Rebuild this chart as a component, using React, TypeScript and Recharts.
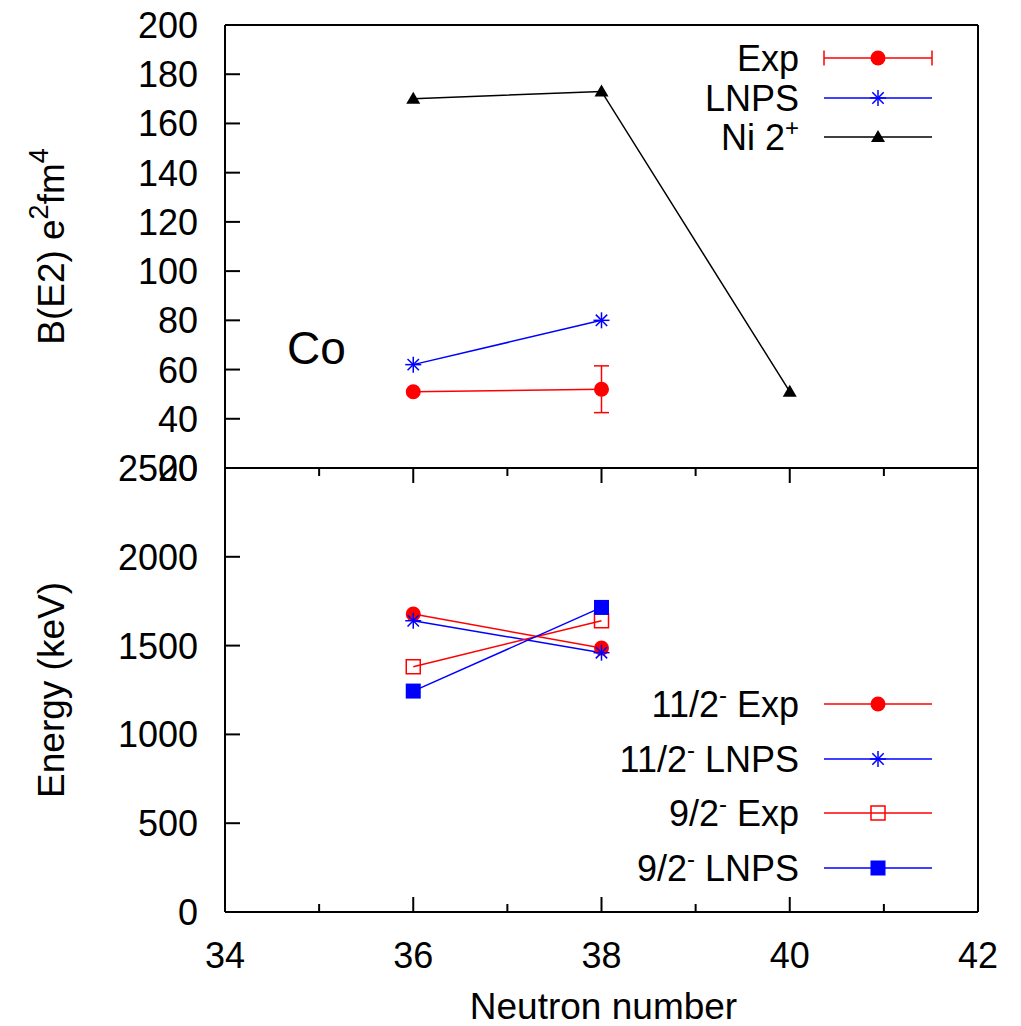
import React from 'react';
import { ComposedChart, Line, XAxis, YAxis, ErrorBar, Legend, ReferenceLine } from 'recharts';

const FONT = '"Liberation Sans", Arial, Helvetica, sans-serif';
const RED = '#ff0000';
const BLUE = '#0000ff';
const BLACK = '#000000';

// neutron numbers
const coN = [36, 38];
const niN = [36, 38, 40];

// B(E2) in e^2 fm^4
const be2Exp = [51, 52];
const be2ExpErr = [0, 9.5];
const be2Lnps = [62, 80];
const be2Ni = [170, 173, 51];

// level energies in keV
const e11Exp = [1678, 1486];
const e11Lnps = [1640, 1460];
const e9Exp = [1381, 1640];
const e9Lnps = [1244, 1715];

// ticks
const xTicks = [34, 35, 36, 37, 38, 39, 40, 41, 42];
const xLabels = [34, 36, 38, 40, 42];
const be2Ticks = [20, 40, 60, 80, 100, 120, 140, 160, 180, 200];
const energyTicks = [0, 500, 1000, 1500, 2000, 2500];

const toRows = (xs: number[], ys: number[], errs?: number[]) =>
  xs.map((n, i) => ({ n, v: ys[i], err: errs ? errs[i] : 0 }));

type Kind = 'circle' | 'star' | 'triangle' | 'openSquare' | 'square';

const Marker = ({ kind, cx, cy, color }: { kind: Kind; cx: number; cy: number; color: string }) => {
  if (cx == null || cy == null) return null;
  switch (kind) {
    case 'circle':
      return <circle cx={cx} cy={cy} r={7.5} fill={color} />;
    case 'star': {
      const r = 8;
      const d = 5.7;
      return (
        <g stroke={color} strokeWidth={1.5}>
          <line x1={cx - r} y1={cy} x2={cx + r} y2={cy} />
          <line x1={cx} y1={cy - r} x2={cx} y2={cy + r} />
          <line x1={cx - d} y1={cy - d} x2={cx + d} y2={cy + d} />
          <line x1={cx - d} y1={cy + d} x2={cx + d} y2={cy - d} />
        </g>
      );
    }
    case 'triangle':
      return <polygon points={`${cx},${cy - 7} ${cx + 7},${cy + 5} ${cx - 7},${cy + 5}`} fill={color} />;
    case 'openSquare':
      return <rect x={cx - 7} y={cy - 7} width={14} height={14} fill="none" stroke={color} strokeWidth={1.5} />;
    default:
      return <rect x={cx - 7.5} y={cy - 7.5} width={15} height={15} fill={color} />;
  }
};

const dotOf = (kind: Kind, color: string, name: string) => (p: any) => (
  <Marker key={`${name}-${p.index}`} kind={kind} cx={p.cx} cy={p.cy} color={color} />
);

// text with superscripts: [text, isSup]
type Seg = [string, boolean?];
const segSpans = (segs: Seg[], supSize: number, lift: number) => {
  let up = false;
  return segs.map(([t, sup], i) => {
    let dy = 0;
    if (sup && !up) dy = -lift;
    if (!sup && up) dy = lift;
    up = !!sup;
    return (
      <tspan key={i} dy={dy} fontSize={sup ? supSize : undefined}>
        {t}
      </tspan>
    );
  });
};

// tick renderers (ticks point inward, gnuplot style)
const LeftTick = ({ x, y, payload }: any) => (
  <g>
    <line x1={x} y1={y} x2={x + 15} y2={y} stroke={BLACK} strokeWidth={2} />
    <text x={x - 27} y={y + 13} textAnchor="end" fontSize={36} fontFamily={FONT} fill={BLACK}>
      {payload.value}
    </text>
  </g>
);

const RightTick = ({ x, y }: any) => <line x1={x} y1={y} x2={x - 15} y2={y} stroke={BLACK} strokeWidth={2} />;

const BottomTick = ({ x, y, payload }: any) => {
  const major = xLabels.includes(payload.value);
  return (
    <g>
      <line x1={x} y1={y} x2={x} y2={y - (major ? 15 : 8)} stroke={BLACK} strokeWidth={2} />
      {major && (
        <text x={x} y={y + 56} textAnchor="middle" fontSize={36} fontFamily={FONT} fill={BLACK}>
          {payload.value}
        </text>
      )}
    </g>
  );
};

const YTitle = ({ viewBox, segs }: any) => {
  const cy = viewBox.y + viewBox.height / 2;
  const bx = 64;
  return (
    <text
      x={bx}
      y={cy}
      transform={`rotate(-90 ${bx} ${cy})`}
      textAnchor="middle"
      fontSize={37}
      fontFamily={FONT}
      fill={BLACK}
    >
      {segSpans(segs, 27, 16)}
    </text>
  );
};

const XTitle = ({ viewBox }: any) => (
  <text
    x={viewBox.x + viewBox.width / 2 + 2}
    y={1019}
    textAnchor="middle"
    fontSize={37}
    fontFamily={FONT}
    fill={BLACK}
  >
    Neutron number
  </text>
);

type Row = { segs: Seg[]; color: string; kind: Kind; cy: number; err?: boolean };

const LegendSvg = ({ rows, height }: { rows: Row[]; height: number }) => (
  <svg width={1021} height={height} style={{ display: 'block' }}>
    {rows.map((r, i) => (
      <g key={i}>
        <text x={799} y={r.cy + 13} textAnchor="end" fontSize={36} fontFamily={FONT} fill={BLACK}>
          {segSpans(r.segs, 24, 14)}
        </text>
        <line x1={824} y1={r.cy} x2={932} y2={r.cy} stroke={r.color} strokeWidth={1.5} />
        {r.err && (
          <g stroke={r.color} strokeWidth={1.5}>
            <line x1={824} y1={r.cy - 7.5} x2={824} y2={r.cy + 7.5} />
            <line x1={932} y1={r.cy - 7.5} x2={932} y2={r.cy + 7.5} />
          </g>
        )}
        <Marker kind={r.kind} cx={878} cy={r.cy} color={r.color} />
      </g>
    ))}
  </svg>
);

const topLegend: Row[] = [
  { segs: [['Exp']], color: RED, kind: 'circle', cy: 58, err: true },
  { segs: [['LNPS']], color: BLUE, kind: 'star', cy: 98 },
  { segs: [['Ni 2'], ['+', true]], color: BLACK, kind: 'triangle', cy: 137 },
];

const bottomLegend: Row[] = [
  { segs: [['11/2'], ['-', true], [' Exp']], color: RED, kind: 'circle', cy: 704 },
  { segs: [['11/2'], ['-', true], [' LNPS']], color: BLUE, kind: 'star', cy: 759 },
  { segs: [['9/2'], ['-', true], [' Exp']], color: RED, kind: 'openSquare', cy: 813 },
  { segs: [['9/2'], ['-', true], [' LNPS']], color: BLUE, kind: 'square', cy: 868 },
];

const frame = { stroke: BLACK, strokeWidth: 2 };

// keV per pixel in the lower panel (2500 keV over 444 px)
const KEV_PX = 2500 / 444;

export default function App() {
  return (
    <div style={{ position: 'absolute', left: 0, top: 0, width: 1021, height: 1026, background: '#fff' }}>
      {/* upper panel: B(E2) */}
      <div style={{ position: 'absolute', left: 0, top: 0 }}>
        <ComposedChart width={1021} height={500} margin={{ top: 15, right: 33, bottom: 30, left: 145 }}>
          <XAxis xAxisId="b" type="number" dataKey="n" domain={[34, 42]} height={2} tick={false} tickLine={false} axisLine={frame} />
          <XAxis xAxisId="t" orientation="top" type="number" dataKey="n" domain={[34, 42]} height={10} tick={false} tickLine={false} axisLine={frame} />
          <YAxis
            yAxisId="l"
            type="number"
            domain={[20, 200]}
            ticks={be2Ticks}
            interval={0}
            width={80}
            tickLine={false}
            tickSize={0}
            tickMargin={0}
            tick={<LeftTick />}
            axisLine={frame}
            label={<YTitle segs={[['B(E2) e'], ['2', true], ['fm'], ['4', true]]} />}
          />
          <YAxis yAxisId="r" orientation="right" type="number" domain={[20, 200]} ticks={be2Ticks} interval={0} width={10} tickLine={false} tickSize={0} tickMargin={0} tick={<RightTick />} axisLine={frame} />
          <Line xAxisId="b" yAxisId="l" data={toRows(coN, be2Exp, be2ExpErr)} dataKey="v" name="Exp" stroke={RED} strokeWidth={1.5} dot={dotOf('circle', RED, 'exp')} activeDot={false} isAnimationActive={false}>
            <ErrorBar dataKey="err" direction="y" width={7.5} stroke={RED} strokeWidth={1.5} isAnimationActive={false} />
          </Line>
          <Line xAxisId="b" yAxisId="l" data={toRows(coN, be2Lnps)} dataKey="v" name="LNPS" stroke={BLUE} strokeWidth={1.5} dot={dotOf('star', BLUE, 'lnps')} activeDot={false} isAnimationActive={false} />
          <Line xAxisId="b" yAxisId="l" data={toRows(niN, be2Ni)} dataKey="v" name="Ni" stroke={BLACK} strokeWidth={1.5} dot={dotOf('triangle', BLACK, 'ni')} activeDot={false} isAnimationActive={false} />
          <Legend
            layout="vertical"
            align="center"
            verticalAlign="middle"
            wrapperStyle={{ left: 0, top: 0, width: 1021, height: 170 }}
            content={() => <LegendSvg rows={topLegend} height={170} />}
          />
        </ComposedChart>
        <div
          style={{
            position: 'absolute',
            left: 287,
            top: 322,
            fontFamily: FONT,
            fontSize: 46,
            lineHeight: '52px',
            color: BLACK,
          }}
        >
          Co
        </div>
      </div>

      {/* lower panel: energies */}
      <div style={{ position: 'absolute', left: 0, top: 0 }}>
        <ComposedChart width={1021} height={1026} margin={{ top: 458, right: 33, bottom: 54, left: 145 }}>
          <XAxis
            xAxisId="b"
            type="number"
            dataKey="n"
            domain={[34, 42]}
            ticks={xTicks}
            interval={0}
            height={60}
            tickLine={false}
            tickSize={0}
            tickMargin={0}
            tick={<BottomTick />}
            axisLine={frame}
            label={<XTitle />}
          />
          <XAxis xAxisId="t" orientation="top" type="number" dataKey="n" domain={[34, 42]} height={10} tick={false} tickLine={false} axisLine={frame} />
          <YAxis
            yAxisId="l"
            type="number"
            domain={[0, 2500]}
            ticks={energyTicks}
            interval={0}
            width={80}
            tickLine={false}
            tickSize={0}
            tickMargin={0}
            tick={<LeftTick />}
            axisLine={frame}
            label={<YTitle segs={[['Energy (keV)']]} />}
          />
          <YAxis yAxisId="r" orientation="right" type="number" domain={[0, 2500]} ticks={energyTicks} interval={0} width={10} tickLine={false} tickSize={0} tickMargin={0} tick={<RightTick />} axisLine={frame} />
          {/* mirrored x ticks hanging from the top edge of the lower panel */}
          {xTicks.map((t) => (
            <ReferenceLine
              key={`hang-${t}`}
              xAxisId="b"
              yAxisId="l"
              segment={[
                { x: t, y: 2500 },
                { x: t, y: 2500 - (xLabels.includes(t) ? 15 : 8) * KEV_PX },
              ]}
              stroke={BLACK}
              strokeWidth={2}
              ifOverflow="visible"
            />
          ))}
          <Line xAxisId="b" yAxisId="l" data={toRows(coN, e11Exp)} dataKey="v" name="11/2 Exp" stroke={RED} strokeWidth={1.5} dot={dotOf('circle', RED, 'e11x')} activeDot={false} isAnimationActive={false} />
          <Line xAxisId="b" yAxisId="l" data={toRows(coN, e11Lnps)} dataKey="v" name="11/2 LNPS" stroke={BLUE} strokeWidth={1.5} dot={dotOf('star', BLUE, 'e11l')} activeDot={false} isAnimationActive={false} />
          <Line xAxisId="b" yAxisId="l" data={toRows(coN, e9Exp)} dataKey="v" name="9/2 Exp" stroke={RED} strokeWidth={1.5} dot={dotOf('openSquare', RED, 'e9x')} activeDot={false} isAnimationActive={false} />
          <Line xAxisId="b" yAxisId="l" data={toRows(coN, e9Lnps)} dataKey="v" name="9/2 LNPS" stroke={BLUE} strokeWidth={1.5} dot={dotOf('square', BLUE, 'e9l')} activeDot={false} isAnimationActive={false} />
          <Legend
            layout="vertical"
            align="center"
            verticalAlign="middle"
            wrapperStyle={{ left: 0, top: 0, width: 1021, height: 1026 }}
            content={() => <LegendSvg rows={bottomLegend} height={1026} />}
          />
        </ComposedChart>
      </div>
    </div>
  );
}
